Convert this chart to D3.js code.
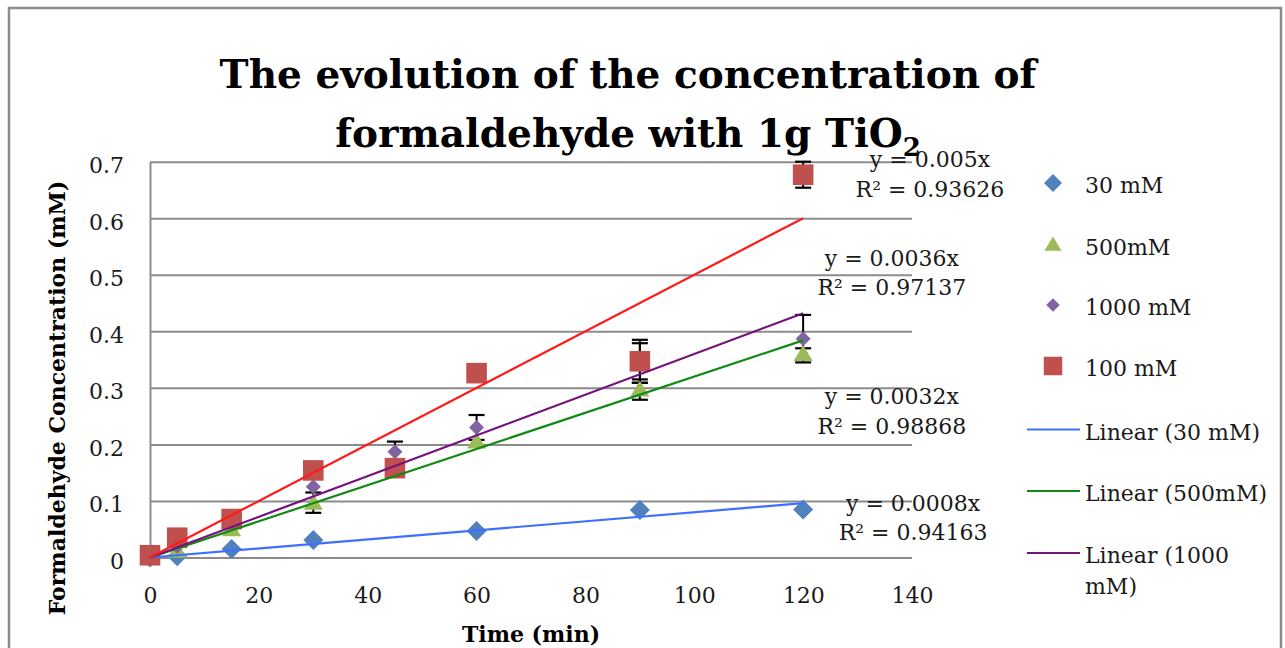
<!DOCTYPE html>
<html><head><meta charset="utf-8">
<script src="https://cdn.jsdelivr.net/npm/d3@7"></script>
<style>
html,body{margin:0;padding:0;background:#fff;}
svg{display:block;font-family:"DejaVu Serif",serif;}
</style></head>
<body>
<svg id="chart" width="1285" height="648"></svg>
<script>
// ---- data ----
const times = [0, 5, 15, 30, 45, 60, 90, 120];
const c30   = [0.000, 0.002, 0.015, 0.031, null, 0.047, 0.084, 0.085];
const c500  = [0.005, 0.012, 0.050, 0.097, 0.155, 0.205, 0.297, 0.360];
const c1000 = [0.005, 0.020, 0.060, 0.125, 0.187, 0.230, 0.344, 0.387];
const c100  = [0.004, 0.035, 0.068, 0.154, 0.158, 0.326, 0.347, 0.677];
const e30   = [0, 0, 0, 0, 0, 0, 0, 0];
const e500  = [0, 0, 0, 0.018, 0, 0, 0.018, 0.010];
const e1000 = [0, 0, 0, 0, 0.018, 0.022, 0.035, 0.042];
const e100  = [0, 0, 0, 0, 0, 0, 0.038, 0.023];
const seriesNames = ["30 mM", "500mM", "1000 mM", "100 mM"];
const slopes = [0.0008, 0.0032, 0.0036, 0.005];
const r2 = ["0.94163", "0.98868", "0.97137", "0.93626"];
const slopeLabels = ["0.0008", "0.0032", "0.0036", "0.005"];
const trendLegend = ["Linear (30 mM)", "Linear (500mM)", ["Linear (1000", "mM)"]];
const xTickLabels = ["0", "20", "40", "60", "80", "100", "120", "140"];
const yTickLabels = ["0", "0.1", "0.2", "0.3", "0.4", "0.5", "0.6", "0.7"];
const fitEnd = 120;

// ---- styles ----
const markerColors = ["#4F81BD", "#9BBB59", "#8064A2", "#C0504D"];
const markerShapes = ["diamond", "triangle", "smalldiamond", "square"];
const lineColors = ["#3F6FFF", "#118A11", "#76127F", "#FF1A1A"];
const grid = "#8C8C8C";

const svg = d3.select("#chart");
const x = d3.scaleLinear().domain([0, 140]).range([150, 912]);
const y = d3.scaleLinear().domain([0, 0.7]).range([557.5, 161.7]);

// border
svg.append("rect").attr("x", 9).attr("y", 8).attr("width", 1272).attr("height", 700)
  .attr("fill", "#fff").attr("stroke", grid).attr("stroke-width", 2.5);

// y axis with gridlines
const yAxis = svg.append("g").attr("transform", "translate(150,0)")
  .call(d3.axisLeft(y).tickValues(yTickLabels.map(Number)).tickFormat((d, i) => yTickLabels[i])
    .tickSize(-(x(140) - x(0))).tickSizeOuter(0).tickPadding(26));
yAxis.selectAll(".tick line").attr("stroke", grid).attr("stroke-width", 2);
yAxis.select(".domain").attr("stroke", grid).attr("stroke-width", 2);
yAxis.selectAll("text").attr("font-family", "DejaVu Serif").attr("font-size", 22)
  .attr("fill", "#1a1a1a").attr("dy", "0.5em");

// x axis labels
const xAxis = svg.append("g").attr("transform", `translate(0,${y(0)})`)
  .call(d3.axisBottom(x).tickValues(xTickLabels.map(Number)).tickFormat((d, i) => xTickLabels[i])
    .tickSize(0).tickPadding(30));
xAxis.select(".domain").remove();
xAxis.selectAll("text").attr("font-family", "DejaVu Serif").attr("font-size", 22).attr("fill", "#1a1a1a");

// marker generators
function markerPath(shape) {
  if (shape === "diamond") return "M0,-10L10,0L0,10L-10,0Z";
  if (shape === "smalldiamond") return "M0,-7.5L7.5,0L0,7.5L-7.5,0Z";
  if (shape === "triangle") return "M0,-9L9.5,7L-9.5,7Z";
  return "M-10.3,-10.3H10.3V10.3H-10.3Z";
}

const seriesVals = [c30, c500, c1000, c100];
const seriesErr = [e30, e500, e1000, e100];

// error bars
const eg = svg.append("g");
seriesVals.forEach((vals, s) => {
  vals.forEach((v, i) => {
    const e = seriesErr[s][i];
    if (v == null || !e) return;
    const cx = x(times[i]);
    eg.append("line").attr("x1", cx).attr("x2", cx).attr("y1", y(v - e)).attr("y2", y(v + e))
      .attr("stroke", "#000").attr("stroke-width", 2);
    [v - e, v + e].forEach(b => eg.append("line").attr("x1", cx - 8).attr("x2", cx + 8)
      .attr("y1", y(b)).attr("y2", y(b)).attr("stroke", "#000").attr("stroke-width", 2.2));
  });
});

// markers
seriesVals.forEach((vals, s) => {
  const g = svg.append("g");
  g.selectAll("path").data(times.map((t, i) => ({t, v: vals[i]})).filter(d => d.v != null))
    .enter().append("path")
    .attr("d", markerPath(markerShapes[s]))
    .attr("transform", d => `translate(${x(d.t)},${y(d.v)})`)
    .attr("fill", markerColors[s]);
});

// trendlines (through origin)
const line = d3.line().x(d => x(d[0])).y(d => y(d[1]));
slopes.forEach((m, s) => {
  svg.append("path").attr("d", line([[0, 0], [fitEnd, m * fitEnd]]))
    .attr("fill", "none").attr("stroke", lineColors[s]).attr("stroke-width", 2.2);
});

// trendline equation labels (positions in data coordinates)
const eqPos = [[140.2, 0.083, 140.2, 0.031], [136.3, 0.272, 136.3, 0.219],
               [136.3, 0.516, 136.3, 0.464], [143.3, 0.69, 143.3, 0.638]];
slopes.forEach((m, s) => {
  const p = eqPos[s];
  svg.append("text").attr("x", x(p[0])).attr("y", y(p[1])).attr("text-anchor", "middle")
    .attr("font-size", 22).attr("fill", "#1a1a1a").text(`y = ${slopeLabels[s]}x`);
  svg.append("text").attr("x", x(p[2])).attr("y", y(p[3])).attr("text-anchor", "middle")
    .attr("font-size", 22).attr("fill", "#1a1a1a").text(`R² = ${r2[s]}`);
});

// legend
const legX = 1053, legTextX = 1085;
const rowY = [185, 246.5, 307, 368, 431.5, 493, 555];
seriesNames.forEach((n, s) => {
  const sc = markerShapes[s] === "smalldiamond" ? 0.9 : 0.9;
  svg.append("path").attr("d", markerPath(markerShapes[s]))
    .attr("transform", `translate(${legX},${rowY[s] - 2}) scale(${sc})`)
    .attr("fill", markerColors[s]);
  svg.append("text").attr("x", legTextX).attr("y", rowY[s] + 8).attr("font-size", 22)
    .attr("fill", "#1a1a1a").text(n);
});
trendLegend.forEach((n, k) => {
  const ry = rowY[4 + k];
  svg.append("line").attr("x1", 1027).attr("x2", 1080).attr("y1", ry - 2).attr("y2", ry - 2)
    .attr("stroke", lineColors[k]).attr("stroke-width", 2.2);
  const t = svg.append("text").attr("x", legTextX).attr("y", ry + 8).attr("font-size", 22).attr("fill", "#1a1a1a");
  if (Array.isArray(n)) {
    t.append("tspan").attr("x", legTextX).text(n[0]);
    t.append("tspan").attr("x", legTextX).attr("dy", 31).text(n[1]);
  } else t.text(n);
});

// title
const title = svg.append("text").attr("text-anchor", "middle").attr("font-weight", "bold")
  .attr("font-size", 39).attr("fill", "#000");
title.append("tspan").attr("x", 628).attr("y", 88).text("The evolution of the concentration of");
const t2 = svg.append("text").attr("x", 628).attr("y", 147).attr("text-anchor", "middle")
  .attr("font-weight", "bold").attr("font-size", 39).attr("fill", "#000");
t2.append("tspan").text("formaldehyde with 1g TiO");
t2.append("tspan").attr("font-size", 26).attr("dy", 9).text("2");

// axis titles
svg.append("text").attr("x", x(70) - 0).attr("y", 642).attr("text-anchor", "middle")
  .attr("font-weight", "bold").attr("font-size", 22).attr("fill", "#000").text("Time (min)");
svg.append("text").attr("transform", "translate(65,398) rotate(-90)").attr("text-anchor", "middle")
  .attr("font-weight", "bold").attr("font-size", 22).attr("fill", "#000")
  .text("Formaldehyde Concentration (mM)");
</script>
</body></html>
